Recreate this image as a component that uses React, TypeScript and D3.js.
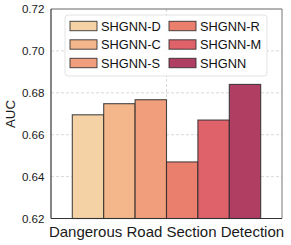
import * as d3 from 'd3';
import React from "react";

const WIDTH = 291;
const HEIGHT = 245;

const methods = ['SHGNN-D', 'SHGNN-C', 'SHGNN-S', 'SHGNN-R', 'SHGNN-M', 'SHGNN'];
const auc = [0.6695, 0.6748, 0.6767, 0.6470, 0.6670, 0.6840];
const colors = ['#f5d1a6', '#f4b78c', '#f09e7c', '#eb7f6e', '#df626a', '#b03d62'];
const yTicks = [0.62, 0.64, 0.66, 0.68, 0.70, 0.72];
const taskLabel = 'Dangerous Road Section Detection';

const FONT = '"Liberation Sans", Arial, Helvetica, sans-serif';

const plot = {left: 51, right: 282, top: 9, bottom: 218.5};

export default function App() {
    const y = d3.scaleLinear().domain([0.62, 0.72]).range([plot.bottom, plot.top]);
    const x = d3.scaleBand<string>().domain(methods).range([72.3, 260.7]).paddingInner(0);
    const midX = (plot.left + plot.right) / 2;

    // legend: 2 columns x 3 rows, filled column-wise
    const legendRows = 3;
    const legendCols = [70, 169];
    const legendRowY = [26, 44.5, 63];

    return (
        <svg width={WIDTH} height={HEIGHT} style={{position: 'absolute', left: 0, top: 0}}
             fontFamily={FONT}>
            <rect x={0} y={0} width={WIDTH} height={HEIGHT} fill="#fff"/>
            {/* grid */}
            {yTicks.slice(1, -1).map(t => (
                <line key={t} x1={plot.left} x2={plot.right} y1={y(t)} y2={y(t)}
                      stroke="#cfcfcf" strokeWidth={0.8} strokeDasharray="3,2"/>
            ))}
            <line x1={midX} x2={midX} y1={plot.top} y2={plot.bottom}
                  stroke="#cfcfcf" strokeWidth={0.8} strokeDasharray="3,2"/>

            {/* bars */}
            {methods.map((m, i) => (
                <rect key={m} x={x(m)} y={y(auc[i])} width={x.bandwidth()}
                      height={plot.bottom - y(auc[i])} fill={colors[i]}
                      stroke="#2a2a2a" strokeOpacity={0.85} strokeWidth={1.1}/>
            ))}

            {/* frame */}
            <line x1={plot.left} x2={plot.right} y1={plot.top} y2={plot.top} stroke="#666" strokeWidth={1}/>
            <line x1={plot.right} x2={plot.right} y1={plot.top} y2={plot.bottom} stroke="#777" strokeWidth={1}/>
            <line x1={plot.left} x2={plot.left} y1={plot.top} y2={plot.bottom} stroke="#222" strokeWidth={1.1}/>
            <line x1={plot.left} x2={plot.right} y1={plot.bottom} y2={plot.bottom} stroke="#333" strokeWidth={1.1}/>

            {/* y tick labels */}
            {yTicks.map(t => (
                <text key={t} x={44.5} y={y(t)} dy="0.36em" textAnchor="end" fontSize={11.6} fill="#1a1a1a">
                    {d3.format('.2f')(t)}
                </text>
            ))}
            <text transform={`translate(15,114) rotate(-90)`} textAnchor="middle" fontSize={13.3} fill="#1a1a1a">AUC</text>

            {/* x label */}
            <text x={midX} y={237} textAnchor="middle" fontSize={15} fill="#1a1a1a">{taskLabel}</text>

            {/* legend */}
            <rect x={65} y={15} width={202} height={61} rx={3} fill="#fff" fillOpacity={0.85}
                  stroke="#dcdcdc" strokeWidth={0.8}/>
            {methods.map((m, i) => {
                const cx = legendCols[Math.floor(i / legendRows)];
                const cy = legendRowY[i % legendRows];
                return (
                    <g key={m}>
                        <rect x={cx} y={cy - 4.7} width={27} height={9.4} fill={colors[i]}
                              stroke="#2a2a2a" strokeOpacity={0.85} strokeWidth={1}/>
                        <text x={cx + 31} y={cy} dy="0.36em" fontSize={12.8} fill="#111">{m}</text>
                    </g>
                );
            })}
        </svg>
    );
}
